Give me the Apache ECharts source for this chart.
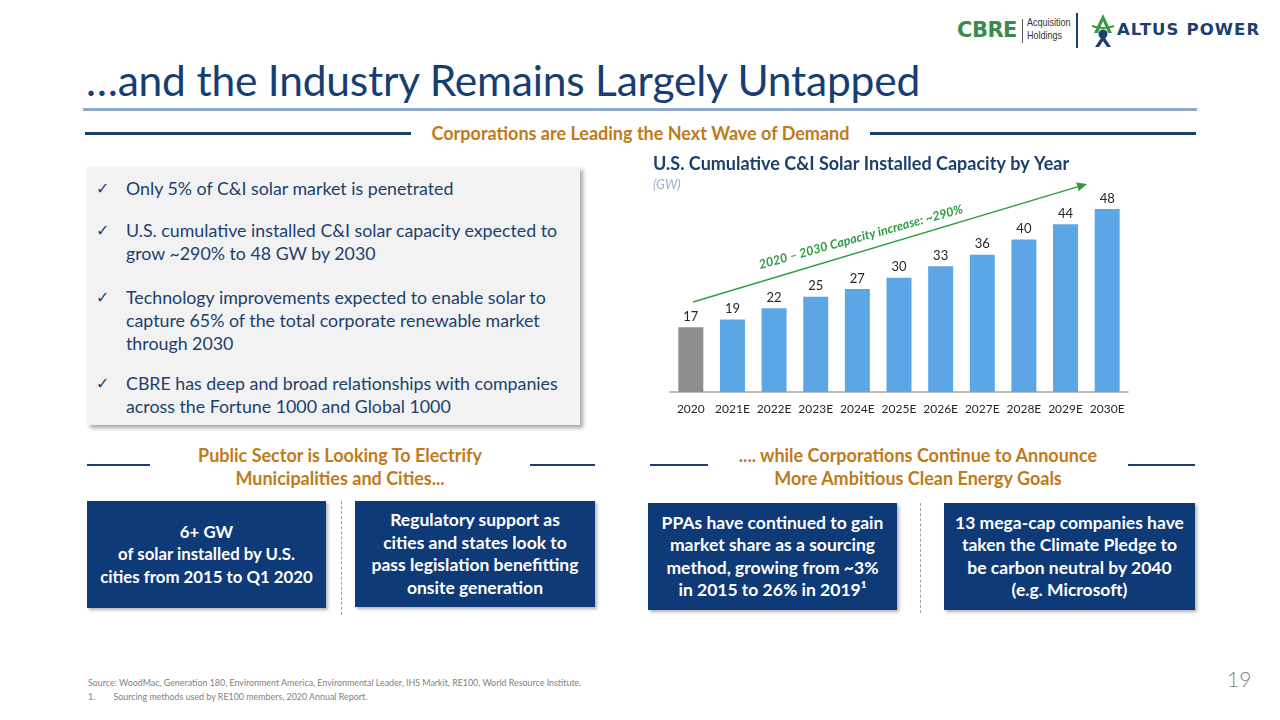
<!DOCTYPE html>
<html>
<head>
<meta charset="utf-8">
<script src="https://cdn.jsdelivr.net/npm/echarts@6/dist/echarts.min.js"></script>
<style>
  html,body{margin:0;padding:0;width:1280px;height:720px;background:#fff;overflow:hidden;font-family:Lato,"Open Sans",sans-serif;}
  .abs{position:absolute;}
  #chart{position:absolute;left:0;top:0;width:1280px;height:720px;pointer-events:none;}
  .title{left:86px;top:54px;font-size:42.5px;color:#173E72;white-space:nowrap;letter-spacing:-0.2px;}
  .hline{background:#8FA9C9;height:3px;}
  .navy{background:#1C3F6E;}
  .orange{color:#C07A1A;font-weight:bold;font-size:18px;text-align:center;white-space:nowrap;}
  .graybox{left:87px;top:167px;width:493px;height:258px;background:#F2F2F2;box-shadow:3px 3px 4px rgba(0,0,0,0.35);}
  .bul{position:absolute;left:39px;color:#1C3F6E;font-size:17.8px;line-height:23px;white-space:nowrap;}
  .chk{position:absolute;left:9px;color:#1C3F6E;font-size:16px;line-height:23px;font-weight:bold;font-family:'DejaVu Sans',sans-serif;}
  .box{background:#0F3A78;color:#fff;font-weight:bold;font-size:17.5px;line-height:22.5px;text-align:center;display:flex;align-items:center;justify-content:center;box-shadow:2px 2px 3px rgba(0,0,0,0.3);white-space:nowrap;}
  .dash{border-left:1px dashed #A0A0A0;width:0;}
  .foot{color:#7F7F7F;font-size:8.9px;white-space:nowrap;}
</style>
</head>
<body>
<!-- logos -->
<div class="abs" style="left:957px;top:18px;font-family:'DejaVu Sans',sans-serif;font-weight:900;font-size:21px;color:#3B8A4C;letter-spacing:-0.5px;">CBRE</div>
<div class="abs" style="left:1022px;top:19px;width:1px;height:24px;background:#555;"></div>
<div class="abs" style="left:1027px;top:16px;font-size:11px;line-height:13px;color:#333;font-family:'Liberation Sans Narrow','Liberation Sans',sans-serif;transform:scaleX(0.82);transform-origin:0 0;">Acquisition<br>Holdings</div>
<div class="abs" style="left:1076px;top:13px;width:2px;height:35px;background:#1C3F6E;"></div>
<svg class="abs" style="left:1090px;top:13px;" width="26" height="36" viewBox="0 0 26 36">
  <path d="M13 1 L4 20 L8 20 L13 8 L18 20 L22 20 Z" fill="#3C9A44"/>
  <path d="M2 13 Q13 17 24 13" stroke="#3C9A44" stroke-width="2" fill="none"/>
  <circle cx="13" cy="21" r="4.5" fill="#1C3F6E"/>
  <path d="M5 34 L11 25 L15 25 L21 34 L17 34 L13 28 L9 34 Z" fill="#1C3F6E"/>
</svg>
<div class="abs" style="left:1117px;top:20px;font-family:'DejaVu Sans',sans-serif;font-weight:bold;font-size:16.5px;color:#1C3F6E;letter-spacing:1.1px;white-space:nowrap;">ALTUS POWER</div>

<div class="abs title">…and the Industry Remains Largely Untapped</div>
<div class="abs hline" style="left:83px;top:108px;width:1114px;"></div>

<div class="abs navy" style="left:85px;top:132px;width:326px;height:3px;"></div>
<div class="abs orange" style="left:411px;top:122px;width:459px;">Corporations are Leading the Next Wave of Demand</div>
<div class="abs navy" style="left:870px;top:132px;width:326px;height:3px;"></div>

<div class="abs graybox">
  <div class="chk" style="top:10px;">✓</div><div class="bul" style="top:10px;">Only 5% of C&amp;I solar market is penetrated</div>
  <div class="chk" style="top:52px;">✓</div><div class="bul" style="top:52px;">U.S. cumulative installed C&amp;I solar capacity expected to<br>grow ~290% to 48 GW by 2030</div>
  <div class="chk" style="top:119px;">✓</div><div class="bul" style="top:119px;">Technology improvements expected to enable solar to<br>capture 65% of the total corporate renewable market<br>through 2030</div>
  <div class="chk" style="top:205px;">✓</div><div class="bul" style="top:205px;">CBRE has deep and broad relationships with companies<br>across the Fortune 1000 and Global 1000</div>
</div>

<!-- lower headers -->
<div class="abs navy" style="left:87px;top:464px;width:63px;height:2px;"></div>
<div class="abs orange" style="left:150px;top:444px;width:380px;line-height:23px;">Public Sector is Looking To Electrify<br>Municipalities and Cities...</div>
<div class="abs navy" style="left:530px;top:464px;width:65px;height:2px;"></div>

<div class="abs navy" style="left:650px;top:464px;width:58px;height:2px;"></div>
<div class="abs orange" style="left:708px;top:444px;width:420px;line-height:23px;">.... while Corporations Continue to Announce<br>More Ambitious Clean Energy Goals</div>
<div class="abs navy" style="left:1128px;top:464px;width:67px;height:2px;"></div>

<div class="abs box" style="left:87px;top:501px;width:239px;height:107px;font-size:16.8px;">6+ GW<br>of solar installed by U.S.<br>cities from 2015 to Q1 2020</div>
<div class="abs dash" style="left:341px;top:501px;height:114px;"></div>
<div class="abs box" style="left:355px;top:501px;width:240px;height:106px;">Regulatory support as<br>cities and states look to<br>pass legislation benefitting<br>onsite generation</div>

<div class="abs box" style="left:648px;top:503px;width:249px;height:107px;">PPAs have continued to gain<br>market share as a sourcing<br>method, growing from ~3%<br>in 2015 to 26% in 2019¹</div>
<div class="abs dash" style="left:920px;top:503px;height:110px;"></div>
<div class="abs box" style="left:944px;top:503px;width:251px;height:107px;">13 mega-cap companies have<br>taken the Climate Pledge to<br>be carbon neutral by 2040<br>(e.g. Microsoft)</div>

<div class="abs foot" style="left:88px;top:677px;">Source: WoodMac, Generation 180, Environment America, Environmental Leader, IHS Markit, RE100, World Resource Institute.</div>
<div class="abs foot" style="left:88px;top:691px;">1.&nbsp;&nbsp;&nbsp;&nbsp;&nbsp;&nbsp;&nbsp;&nbsp;Sourcing methods used by RE100 members, 2020 Annual Report.</div>
<div class="abs" style="left:1227px;top:666px;font-size:21px;color:#7F7F7F;font-weight:300;">19</div>

<div id="chart"></div>
<script>
const categories = ['2020','2021E','2022E','2023E','2024E','2025E','2026E','2027E','2028E','2029E','2030E'];
const capacityGW = [17,19,22,25,27,30,33,36,40,44,48];
const actualColor = '#8E8E8E';
const forecastColor = '#5DA6E6';
const chartTitle = 'U.S. Cumulative C&I Solar Installed Capacity by Year';
const chartUnit = '(GW)';
const arrowLabel = '2020 – 2030 Capacity increase: ~290%';

const chart = echarts.init(document.getElementById('chart'), null, {renderer:'canvas'});
// arrow geometry (annotation)
const ax0 = 693, ay0 = 302, ax1 = 1087, ay1 = 184;
const len = Math.hypot(ax1-ax0, ay1-ay0);
const ux = (ax1-ax0)/len, uy = (ay1-ay0)/len;
const bx = ax1 - ux*10, by = ay1 - uy*10;
const px = -uy*4.5, py = ux*4.5;

chart.setOption({
  animation:false,
  grid:{left:670, right:152, top:209, bottom:328, containLabel:false},
  xAxis:{type:'category', data:categories,
    axisLine:{lineStyle:{color:'#A6A6A6', width:1.5}},
    axisTick:{show:false},
    axisLabel:{color:'#262626', fontSize:12, margin:11, fontFamily:'Lato', interval:0}},
  yAxis:{type:'value', min:0, max:48, show:false, splitLine:{show:false}},
  series:[{
    type:'bar', barWidth:'60%',
    data: capacityGW.map((v,i)=>({value:v, itemStyle:{color: i===0 ? actualColor : forecastColor}})),
    label:{show:true, position:'top', distance:4, color:'#262626', fontSize:13, fontFamily:'Lato'}
  }],
  graphic:[
    {type:'text', left:653, top:155, style:{text:chartTitle, fill:'#1C3F6E', font:'bold 18px Lato'}},
    {type:'text', left:653, top:178, style:{text:chartUnit, fill:'#9AAECB', font:'italic 13px Lato'}},
    {type:'line', shape:{x1:ax0, y1:ay0, x2:bx, y2:by}, style:{stroke:'#2E9C3F', lineWidth:1.5}},
    {type:'polygon', shape:{points:[[ax1,ay1],[bx+px,by+py],[bx-px,by-py]]}, style:{fill:'#2E9C3F'}},
    {type:'text', x:861, y:237, rotation:0.27, style:{text:arrowLabel, fill:'#2E9C3F', font:'italic bold 12.5px Lato', align:'center', verticalAlign:'middle'}}
  ]
});
</script>
</body>
</html>
